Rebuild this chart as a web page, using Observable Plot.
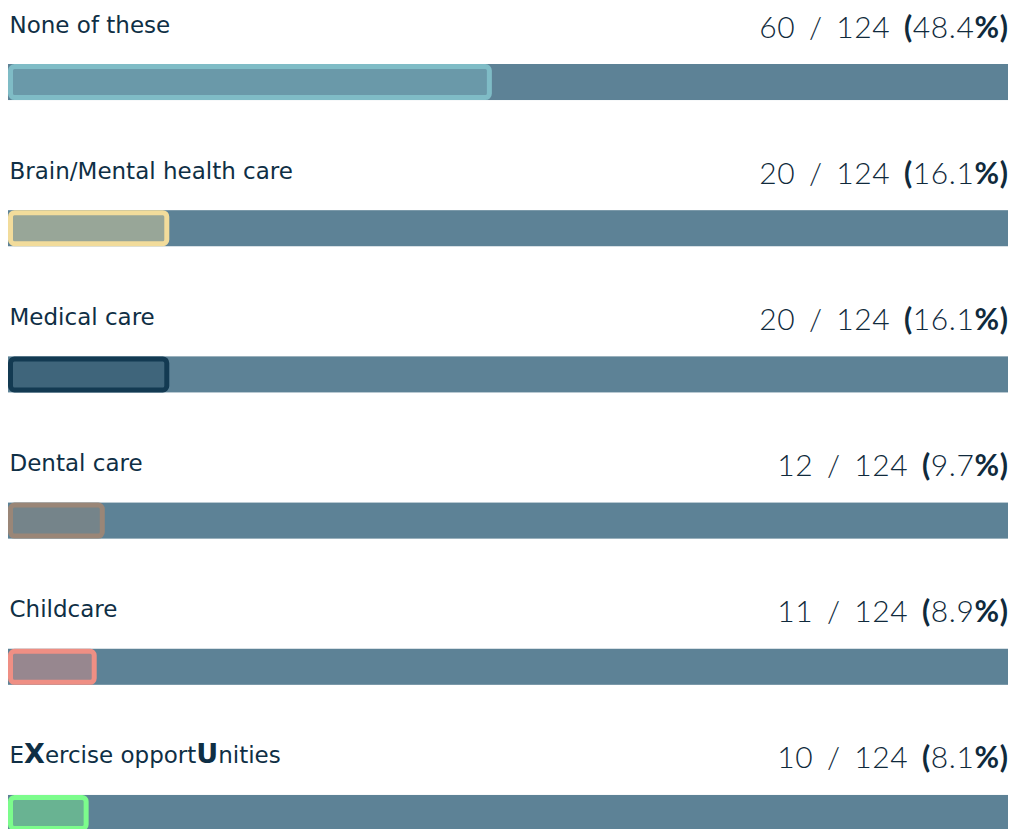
<!DOCTYPE html>
<html><head><meta charset="utf-8">
<script src="https://cdn.jsdelivr.net/npm/d3@7"></script>
<script src="https://cdn.jsdelivr.net/npm/@observablehq/plot@0.6"></script>
<style>body{margin:0;background:#fff;}</style>
</head><body><div id="chart"></div>
<script>
const categories = ["None of these", "Brain/Mental health care", "Medical care", "Dental care", "Childcare", "EXercise opportUnities"];
const counts = [60, 20, 20, 12, 11, 10];
const total = 124;
const colors = ["#7fbcc6", "#f2dc9b", "#133a52", "#9a8677", "#ef8f84", "#7cfc8c"];

const data = categories.map((c, i) => ({
  category: c,
  count: counts[i],
  pct: counts[i] / total * 100,
  color: colors[i],
  value: `${counts[i]} / ${total} (${(counts[i] / total * 100).toFixed(1)}%)`
}));

const plot = Plot.plot({
  width: 1019, height: 829, margin: 0,
  x: {domain: [0, 100], range: [8, 1008], axis: null},
  y: {domain: categories, range: [64, 831], paddingInner: 0.7534, paddingOuter: 0, align: 0, round: false, axis: null},
  color: {type: "identity"},
  style: {background: "#fff", overflow: "visible"},
  marks: [
    Plot.barX(data, {y: "category", x1: 0, x2: 100, fill: "#5d8296"}),
    Plot.barX(data, {y: "category", x1: 0, x2: "pct", fill: "color", fillOpacity: 0.4, stroke: "color", strokeWidth: 5, inset: 2.5, rx: 4}),
    Plot.text(data, {y: "category", x: 0, text: "category", textAnchor: "start", lineAnchor: "bottom", dy: -50, dx: 1, fontSize: 23, fill: "#0f2f45", fontFamily: "DejaVu Sans"}),
    Plot.text(data, {y: "category", x: 100, text: "value", textAnchor: "end", lineAnchor: "bottom", dy: -45, fontSize: 30, fill: "#102a3c", fontFamily: "Lato", fontWeight: 300})
  ]
});

const textGroups = d3.select(plot).selectAll("g[aria-label='text']").nodes();
const labelGroup = textGroups[0], valueGroup = textGroups[1];

d3.select(valueGroup).attr("letter-spacing", 0.6).attr("word-spacing", 5);
d3.select(valueGroup).selectAll("text").each(function () {
  const t = this.textContent;
  const m = t.match(/^(.*)\((.*?)(%\))$/);
  if (!m) return;
  this.textContent = "";
  const s = d3.select(this);
  s.append("tspan").text(m[1]);
  s.append("tspan").attr("font-weight", "bold").text("(");
  s.append("tspan").text(m[2]);
  s.append("tspan").attr("font-weight", "bold").text(m[3]);
});

d3.select(labelGroup).selectAll("text").each(function () {
  const t = this.textContent;
  const runs = [];
  for (let i = 0; i < t.length; i++) {
    const ch = t[i];
    const emph = /[A-Z]/.test(ch) && i > 0 && /[A-Za-z]/.test(t[i - 1]);
    if (runs.length && runs[runs.length - 1].emph === emph) runs[runs.length - 1].text += ch;
    else runs.push({emph, text: ch});
  }
  this.textContent = "";
  const s = d3.select(this);
  runs.forEach(r => {
    const sp = s.append("tspan").text(r.text);
    if (r.emph) sp.attr("font-size", 27).attr("font-weight", "bold");
  });
});

document.getElementById("chart").appendChild(plot);
</script>
</body></html>
